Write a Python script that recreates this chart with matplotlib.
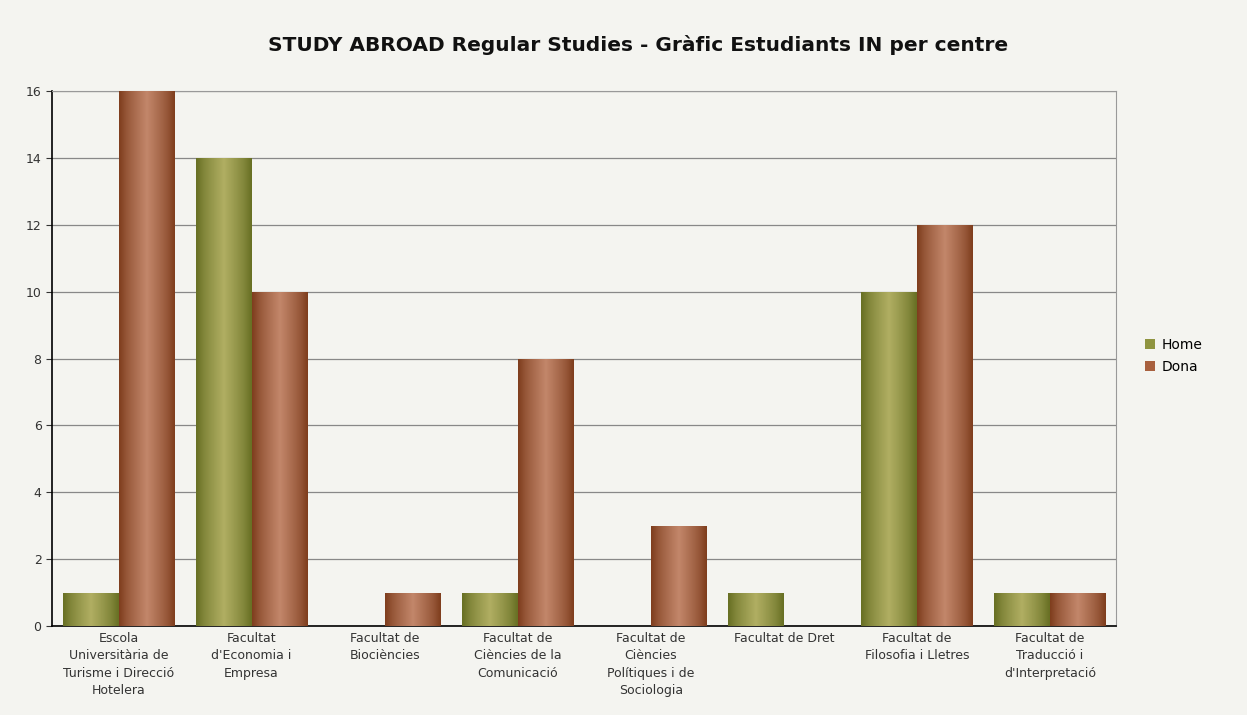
import numpy as np
import matplotlib.pyplot as plt
from matplotlib.colors import LinearSegmentedColormap

centres = ["Escola\nUniversitària de\nTurisme i Direcció\nHotelera",
           "Facultat\nd'Economia i\nEmpresa",
           "Facultat de\nBiociències",
           "Facultat de\nCiències de la\nComunicació",
           "Facultat de\nCiències\nPolítiques i de\nSociologia",
           "Facultat de Dret",
           "Facultat de\nFilosofia i Lletres",
           "Facultat de\nTraducció i\nd'Interpretació"]
home = [1, 14, 0, 1, 0, 1, 10, 1]
dona = [16, 10, 1, 8, 3, 0, 12, 1]

bg = '#f4f4f0'
fig = plt.figure(figsize=(12.47, 7.15), dpi=100, facecolor=bg)
ax = fig.add_axes([0.0417, 0.1245, 0.8536, 0.7482], facecolor=bg)

x = np.arange(len(centres))
w = 0.42
b1 = ax.bar(x - w / 2, home, w, color='#8f9440', label='Home', zorder=2)
b2 = ax.bar(x + w / 2, dona, w, color='#a8603e', label='Dona', zorder=2)

# cylinder-like horizontal gradient on every bar
prof = np.array([0, 0.25, 0.5, 0.75, 1.0, 0.75, 0.5, 0.25, 0]) ** 0.8
shade = np.interp(np.linspace(0, 8, 60), np.arange(9), prof)[None, :]
cm_home = LinearSegmentedColormap.from_list('h', ['#687024', '#b0ae62'])
cm_dona = LinearSegmentedColormap.from_list('d', ['#7f3e1e', '#c2866a'])
for bars, cm in [(b1, cm_home), (b2, cm_dona)]:
    for r in bars:
        if r.get_height() == 0:
            continue
        x0, y0 = r.get_x(), r.get_y()
        im = ax.imshow(shade, cmap=cm, vmin=0, vmax=1, aspect='auto', zorder=3,
                       extent=[x0, x0 + r.get_width(), y0, y0 + r.get_height()])
        im.set_clip_path(r)

ax.set_xlim(-0.5, len(centres) - 0.5)
ax.set_ylim(0, 16)
ax.set_yticks(range(0, 17, 2))
ax.set_xticks(x)
ax.set_xticklabels(centres, fontsize=9, color='#333333', linespacing=1.45)
ax.tick_params(axis='y', labelsize=9, colors='#333333', length=4, width=0.8)
ax.tick_params(axis='x', length=0, pad=4)
ax.yaxis.grid(True, color='#888888', linewidth=0.9, zorder=0)
ax.set_axisbelow(True)
for s in ['top', 'right']:
    ax.spines[s].set_color('#999999')
for s in ['left', 'bottom']:
    ax.spines[s].set_color('#000000')
    ax.spines[s].set_linewidth(1.2)

fig.text(0.512, 0.937, 'STUDY ABROAD Regular Studies - Gràfic Estudiants IN per centre',
         ha='center', va='center', fontsize=14.5, fontweight='bold', color='#111111')

ax.legend(loc='center left', bbox_to_anchor=(1.015, 0.505), frameon=False,
          fontsize=10, handlelength=0.7, handleheight=0.7, handletextpad=0.5,
          labelspacing=0.55)

fig.savefig('out.png', dpi=100, facecolor=bg)
